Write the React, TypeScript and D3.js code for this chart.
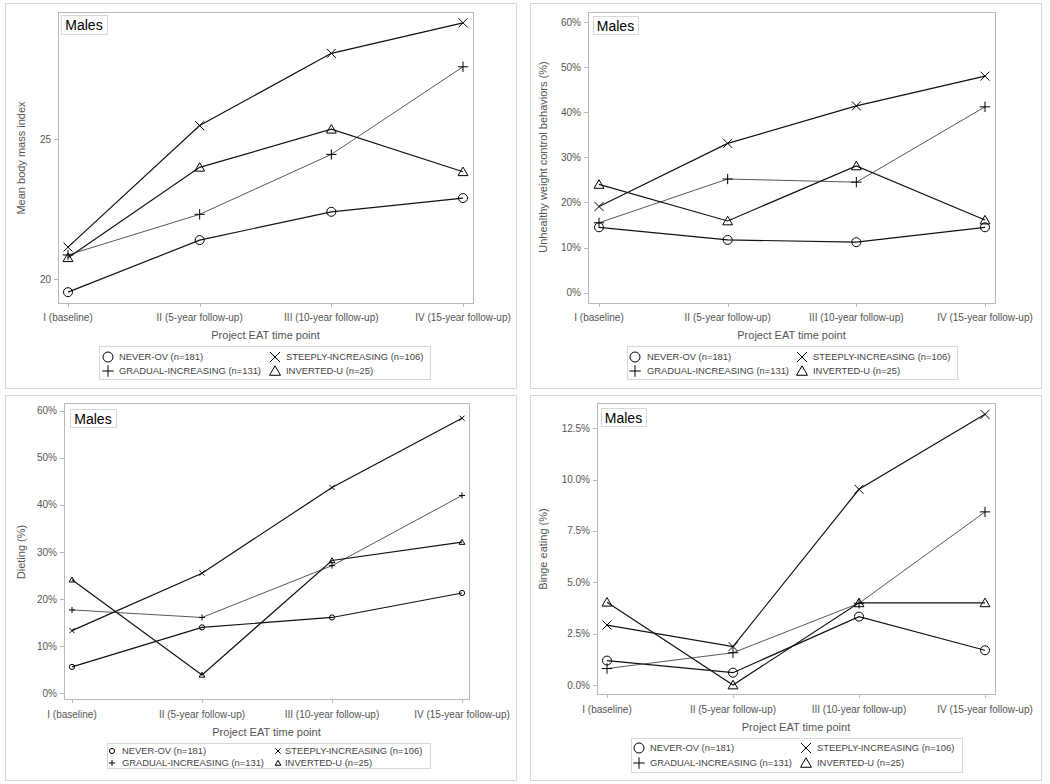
import React from "react";
import * as d3 from "d3";

const timePoints = ["I (baseline)", "II (5-year follow-up)", "III (10-year follow-up)", "IV (15-year follow-up)"];
const seriesNames = ["NEVER-OV (n=181)", "GRADUAL-INCREASING (n=131)", "STEEPLY-INCREASING (n=106)", "INVERTED-U (n=25)"];
const seriesSymbols = ["circle", "plus", "x", "triangle"];

// Panel A: BMI
const bmiNever = [19.54, 21.4, 22.41, 22.9];
const bmiGradual = [20.87, 22.32, 24.46, 27.59];
const bmiSteep = [21.15, 25.49, 28.07, 29.16];
const bmiInverted = [20.77, 24.0, 25.36, 23.84];
const bmiTicks = [20, 25];

// Panel B: UWCB (%)
const uwcbNever = [14.5, 11.7, 11.2, 14.5];
const uwcbGradual = [15.5, 25.2, 24.5, 41.2];
const uwcbSteep = [19.1, 33.1, 41.4, 48.0];
const uwcbInverted = [24.0, 15.9, 28.1, 16.1];
const pctTicks = [0, 10, 20, 30, 40, 50, 60];

// Panel C: Dieting (%)
const dietNever = [5.6, 14.0, 16.1, 21.3];
const dietGradual = [17.7, 16.1, 27.1, 42.0];
const dietSteep = [13.3, 25.5, 43.7, 58.4];
const dietInverted = [24.1, 3.9, 28.2, 32.1];

// Panel D: Binge eating (%)
const bingeNever = [1.19, 0.6, 3.33, 1.69];
const bingeGradual = [0.8, 1.57, 3.98, 8.43];
const bingeSteep = [2.92, 1.87, 9.53, 13.18];
const bingeInverted = [4.03, 0.0, 4.0, 4.0];
const bingeTicks = [0, 2.5, 5, 7.5, 10, 12.5];

const FONT = "'Liberation Sans', Arial, Helvetica, sans-serif";

type Layout = {
  outer: [number, number, number, number];
  plot: [number, number, number, number];
  xr: [number, number];
  yAt: [number, number, number, number]; // value0, px0, value1, px1
  males: [number, number, number, number];
  legend: [number, number, number, number];
  rows: [number, number];
  col1: [number, number];
  col2: [number, number];
  xLabY: number;
  xTitleY: number;
  yTitle: [number, number];
  mk: number;
};

const panels = [
  {
    title: "Mean body mass index",
    data: [bmiNever, bmiGradual, bmiSteep, bmiInverted],
    ticks: bmiTicks,
    fmt: (v: number) => d3.format("d")(v),
    L: {
      outer: [5, 3, 516, 388], plot: [58, 12, 473, 303], xr: [68, 463],
      yAt: [20, 279.3, 25, 139.3], males: [61, 15, 107, 34],
      legend: [99, 346, 430, 379], rows: [357, 371], col1: [108, 119], col2: [275, 286],
      xLabY: 317, xTitleY: 335, yTitle: [21, 158], mk: 4.5,
    } as Layout,
  },
  {
    title: "Unhealthy weight control behaviors (%)",
    data: [uwcbNever, uwcbGradual, uwcbSteep, uwcbInverted],
    ticks: pctTicks,
    fmt: (v: number) => `${v}%`,
    L: {
      outer: [530, 3, 1041, 388], plot: [588, 12, 995, 303], xr: [599, 985],
      yAt: [0, 292.7, 60, 22], males: [593, 16, 638, 34],
      legend: [627, 346, 957, 379], rows: [357, 371], col1: [635, 647], col2: [802, 813],
      xLabY: 317, xTitleY: 335, yTitle: [543, 157], mk: 4.5,
    } as Layout,
  },
  {
    title: "Dieting (%)",
    data: [dietNever, dietGradual, dietSteep, dietInverted],
    ticks: pctTicks,
    fmt: (v: number) => `${v}%`,
    L: {
      outer: [5, 395, 516, 780], plot: [64, 403, 469, 699], xr: [72, 462],
      yAt: [0, 693.3, 60, 410.7], males: [70, 409, 116, 427],
      legend: [107, 743, 430, 768], rows: [751, 763], col1: [112, 122], col2: [278, 285],
      xLabY: 714, xTitleY: 732, yTitle: [21, 552], mk: 2.6,
    } as Layout,
  },
  {
    title: "Binge eating (%)",
    data: [bingeNever, bingeGradual, bingeSteep, bingeInverted],
    ticks: bingeTicks,
    fmt: (v: number) => d3.format(".1f")(v) + "%",
    L: {
      outer: [530, 395, 1041, 780], plot: [597, 403, 995, 694], xr: [607, 985],
      yAt: [0, 685, 12.5, 428.3], males: [601, 408, 646, 426],
      legend: [631, 738, 962, 772], rows: [748, 763], col1: [639, 650], col2: [806, 817],
      xLabY: 709, xTitleY: 727, yTitle: [543, 549], mk: 4.5,
    } as Layout,
  },
];

function Marker({ kind, x, y, r }: { kind: string; x: number; y: number; r: number }) {
  const st = { fill: "none", stroke: "#000", strokeWidth: 1 };
  if (kind === "circle") return <circle cx={x} cy={y} r={r} {...st} />;
  if (kind === "plus")
    return <path d={`M${x - r * 1.15},${y}H${x + r * 1.15}M${x},${y - r * 1.15}V${y + r * 1.15}`} {...st} />;
  if (kind === "x")
    return <path d={`M${x - r},${y - r}L${x + r},${y + r}M${x - r},${y + r}L${x + r},${y - r}`} {...st} />;
  const h = r * 1.9;
  return (
    <path d={`M${x},${y - h * 0.55}L${x + r * 1.1},${y + h * 0.45}L${x - r * 1.1},${y + h * 0.45}Z`} {...st} />
  );
}

function Panel({ p }: { p: (typeof panels)[number] }) {
  const L = p.L;
  const x = d3.scalePoint<string>().domain(timePoints).range(L.xr);
  const y = d3.scaleLinear().domain([L.yAt[0], L.yAt[2]]).range([L.yAt[1], L.yAt[3]]);
  const [px0, py0, px1, py1] = L.plot;
  const line = d3
    .line<number>()
    .x((_, i) => x(timePoints[i]) as number)
    .y((d) => y(d));
  const [ox0, oy0, ox1, oy1] = L.outer;
  const [lx0, ly0, lx1, ly1] = L.legend;
  const [mx0, my0, mx1, my1] = L.males;
  const legendMk = L.mk < 3 ? 2.6 : 5;
  const legendItems = [
    { s: 0, col: L.col1, row: L.rows[0] },
    { s: 2, col: L.col2, row: L.rows[0] },
    { s: 1, col: L.col1, row: L.rows[1] },
    { s: 3, col: L.col2, row: L.rows[1] },
  ];
  return (
    <g>
      <rect x={ox0 + 0.5} y={oy0 + 0.5} width={ox1 - ox0} height={oy1 - oy0} fill="#fff" stroke="#d8d8d8" />
      <rect x={px0 + 0.5} y={py0 + 0.5} width={px1 - px0} height={py1 - py0} fill="#fff" stroke="#b8b8b8" />
      {/* y ticks */}
      {p.ticks.map((t) => (
        <g key={t}>
          <line x1={px0 - 4} x2={px0} y1={Math.round(y(t)) + 0.5} y2={Math.round(y(t)) + 0.5} stroke="#b8b8b8" />
          <text x={px0 - 7} y={y(t)} dy="0.35em" textAnchor="end" fontSize={10} fill="#555" fontFamily={FONT}>
            {p.fmt(t)}
          </text>
        </g>
      ))}
      {/* x ticks */}
      {timePoints.map((tp) => (
        <g key={tp}>
          <line
            x1={Math.round(x(tp) as number) + 0.5}
            x2={Math.round(x(tp) as number) + 0.5}
            y1={py1}
            y2={py1 + 4}
            stroke="#b8b8b8"
          />
          <text x={x(tp)} y={L.xLabY} dy="0.35em" textAnchor="middle" fontSize={10} fill="#555" fontFamily={FONT}>
            {tp}
          </text>
        </g>
      ))}
      <text x={(px0 + px1) / 2} y={L.xTitleY} dy="0.35em" textAnchor="middle" fontSize={11} fill="#555" fontFamily={FONT}>
        Project EAT time point
      </text>
      <text
        transform={`translate(${L.yTitle[0]},${L.yTitle[1]}) rotate(-90)`}
        dy="0.35em"
        textAnchor="middle"
        fontSize={11}
        fill="#555"
        fontFamily={FONT}
      >
        {p.title}
      </text>
      {/* lines */}
      {p.data.map((vals, si) => (
        <path
          key={si}
          d={line(vals) as string}
          fill="none"
          stroke={si === 1 ? "#444" : "#111"}
          strokeWidth={si === 1 ? 0.9 : 1.2}
        />
      ))}
      {p.data.map((vals, si) =>
        vals.map((v, i) => (
          <Marker key={`${si}-${i}`} kind={seriesSymbols[si]} x={x(timePoints[i]) as number} y={y(v)} r={L.mk} />
        ))
      )}
      {/* Males label */}
      <rect x={mx0 + 0.5} y={my0 + 0.5} width={mx1 - mx0} height={my1 - my0} fill="#fff" stroke="#d8d8d8" />
      <text x={(mx0 + mx1) / 2} y={(my0 + my1) / 2 + 1} dy="0.35em" textAnchor="middle" fontSize={14} fill="#000" fontFamily={FONT}>
        Males
      </text>
      {/* legend */}
      <rect x={lx0 + 0.5} y={ly0 + 0.5} width={lx1 - lx0} height={ly1 - ly0} fill="#fff" stroke="#d8d8d8" />
      {legendItems.map((it) => (
        <g key={it.s}>
          <Marker kind={seriesSymbols[it.s]} x={it.col[0]} y={it.row} r={legendMk} />
          <text x={it.col[1]} y={it.row} dy="0.35em" fontSize={9.4} fill="#444" fontFamily={FONT}>
            {seriesNames[it.s]}
          </text>
        </g>
      ))}
    </g>
  );
}

export default function App() {
  return (
    <svg
      width={1050}
      height={784}
      style={{ position: "absolute", left: 0, top: 0, background: "#fff" }}
    >
      <rect x={0} y={0} width={1050} height={784} fill="#fff" />
      {panels.map((p, i) => (
        <Panel key={i} p={p} />
      ))}
    </svg>
  );
}
